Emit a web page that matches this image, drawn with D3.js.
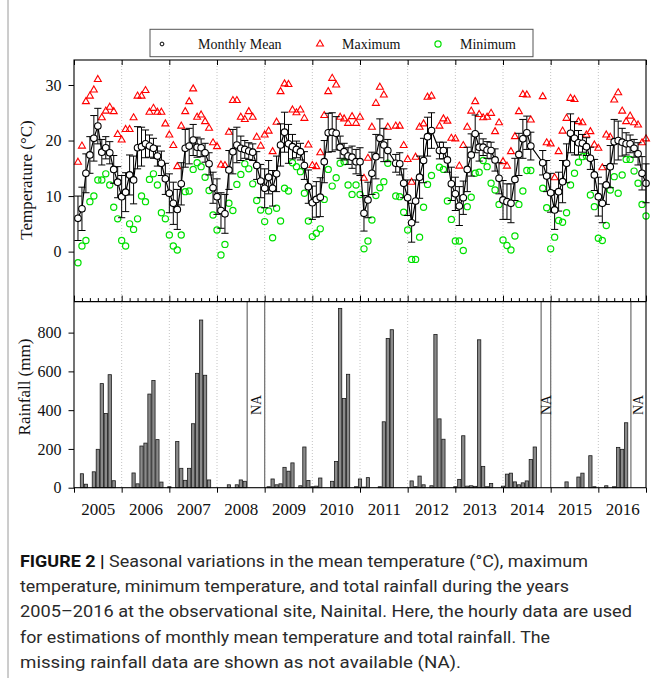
<!DOCTYPE html>
<html>
<head>
<meta charset="utf-8">
<script src="https://cdn.jsdelivr.net/npm/d3@7/dist/d3.min.js"></script>
<style>
body { margin: 0; background: #fff; }
.serif { font-family: "Liberation Serif", "Times New Roman", serif; }
</style>
</head>
<body>
<svg id="FigSvg" width="651" height="678"></svg>
<script>
// monthly values, Jan 2005 .. Dec 2016 (null = no data)
var years = ['2005', '2006', '2007', '2008', '2009', '2010', '2011', '2012', '2013', '2014', '2015', '2016']
var meanT = [
    6.0, 7.7, 14.1, 17.4, 20.4, 22.6, 17.9, 18.7, 17.8, 14.8, 12.5, 9.9,
    10.7, 13.8, 12.9, 18.7, 18.9, 19.4, 19.0, 18.6, 17.2, 15.9, 13.1, 10.5,
    8.7, 7.6, 12.2, 18.6, 19.0, 20.1, 18.8, 18.7, 17.8, 15.8, 11.5, 9.9,
    7.4, 6.8, 14.7, 18.0, 19.2, 18.6, 18.4, 18.1, 17.9, 15.5, 12.7, 11.4,
    13.4, 11.4, 14.0, 19.2, 21.5, 19.4, 18.9, 18.4, 18.0, 15.5, 11.7, 8.8,
    9.4, 9.8, 16.2, 21.4, 21.5, 21.3, 18.8, 18.0, 17.2, 17.0, 16.2, 16.2,
    6.9, 9.3, 14.1, 17.1, 20.4, 19.2, 18.2, null, 15.9, 15.8, 12.3, 9.7,
    5.2, 9.1, 13.4, 16.4, 20.7, 21.8, null, 18.2, 18.2, 16.5, 12.2, 10.4,
    8.2, 9.7, 14.8, 17.4, 21.2, 18.8, 18.8, 18.3, 18.2, 16.5, 13.2, 9.3,
    9.0, 8.7, 13.0, 17.5, 20.3, 21.4, 19.0, null, null, 16.0, 13.6, 10.6,
    7.5, 10.8, 12.6, 15.9, 21.3, 20.4, 19.6, 19.5, 18.9, 16.8, 13.8, 9.9,
    8.7, 12.0, 15.3, 19.8, 20.0, 19.7, 19.4, 19.4, 18.6, 17.6, 14.1, 12.3]
var errT = [
    4.0, 3.9, 3.5, 3.3, 4.1, 3.2, 2.3, 2.0, 2.0, 2.5, 2.8, 3.8,
    3.5, 3.6, 4.3, 3.8, 3.5, 2.5, 2.0, 1.8, 1.8, 2.2, 2.8, 3.5,
    3.8, 3.6, 3.8, 3.4, 3.2, 2.8, 1.8, 1.6, 1.7, 2.0, 2.8, 3.2,
    3.2, 3.5, 3.5, 4.0, 3.2, 2.2, 1.6, 1.5, 1.5, 2.5, 3.0, 3.5,
    3.0, 3.2, 3.2, 3.8, 3.6, 3.5, 2.2, 1.5, 1.5, 2.5, 3.0, 3.0,
    3.2, 3.5, 3.8, 3.5, 3.5, 3.0, 2.0, 1.5, 1.5, 2.0, 2.2, 2.5,
    3.2, 3.2, 3.8, 4.0, 3.5, 3.0, 2.0, null, 1.6, 2.0, 2.6, 3.2,
    3.5, 3.8, 3.8, 4.0, 3.5, 3.2, null, 1.5, 1.5, 2.2, 3.0, 3.0,
    3.5, 3.0, 4.0, 3.8, 3.4, 2.5, 1.5, 1.5, 1.5, 2.0, 2.8, 3.5,
    3.2, 3.5, 3.8, 3.8, 3.5, 3.0, 2.5, null, null, 2.2, 2.8, 3.5,
    3.5, 3.5, 3.8, 3.5, 3.5, 3.0, 2.2, 1.6, 1.6, 2.0, 2.8, 3.5,
    3.5, 3.5, 3.8, 4.0, 3.5, 2.5, 2.0, 1.6, 1.6, 2.0, 3.0, 3.5]
var maxT = [
    16.1, 19.0, 27.0, 28.0, 29.1, 31.0, 24.1, 25.3, 26.0, 25.2, 21.1, 20.1,
    22.0, 22.0, 24.1, 28.0, 28.0, 29.0, 25.1, 25.8, 25.1, 25.1, 23.0, 21.0,
    19.1, 15.3, 22.6, 25.2, 27.0, 29.3, 24.2, 24.6, 23.4, 22.2, 19.6, 18.9,
    15.6, 15.5, 21.5, 27.2, 27.2, 24.2, 23.8, 25.2, 24.2, 20.6, 19.0, 21.0,
    21.7, 18.0, 23.3, 28.8, 30.2, 30.1, 25.5, 25.0, 25.5, 24.0, 19.2, 15.5,
    15.3, 17.8, 24.5, 28.8, 31.2, 30.0, 24.2, 23.9, 23.1, 24.3, 23.1, 24.2,
    13.2, 16.8, 22.4, 26.7, 29.6, 28.2, 22.4, null, 22.6, 22.6, 19.1, 16.6,
    12.5, 17.0, 22.4, 23.0, 27.8, 28.0, null, 22.6, 23.9, 23.5, 20.4, 20.3,
    15.4, 19.1, 22.4, 25.3, 27.0, 24.7, 24.1, 24.2, 24.9, 21.6, 23.2, 16.2,
    15.4, 18.0, 20.7, 25.2, 28.3, 28.2, 23.7, null, null, 27.9, 19.6, 19.4,
    13.3, 18.0, 21.7, 24.0, 27.6, 27.4, 23.4, 23.2, 21.0, 21.6, 19.2, 18.6,
    15.1, 21.0, 20.6, 27.3, 28.6, 25.3, 23.4, 24.4, 23.2, 22.8, 19.6, 20.3]
var minT = [
    -2.0, 1.0, 2.0, 9.0, 10.0, 12.9, 12.9, 14.0, 12.0, 8.0, 5.9, 2.0,
    1.0, 5.0, 4.0, 5.9, 10.0, 9.0, 13.0, 14.0, 12.0, 7.0, 5.9, 3.0,
    1.0, 0.3, 3.0, 10.8, 10.9, 14.8, 16.0, 15.3, 13.4, 11.0, 6.6, 3.9,
    -0.6, 1.3, 8.7, 7.4, 12.1, 13.9, 15.8, 14.9, 12.2, 9.2, 7.5, 5.4,
    7.3, 2.5, 7.8, 5.5, 11.4, 10.9, 16.0, 15.3, 14.4, 10.5, 5.5, 2.7,
    3.3, 4.1, 9.4, 14.8, 11.8, 13.3, 15.9, 16.2, 12.0, 10.3, 12.0, 10.3,
    0.5, 1.9, 5.7, 10.1, 11.5, 12.6, 15.9, null, 10.0, 9.9, 7.1, 3.9,
    -1.4, -1.4, 2.6, 8.0, 12.1, 13.7, null, 15.2, 14.8, 9.1, 5.8, 1.9,
    1.9, 0.2, 8.1, 9.8, 14.1, 14.3, 16.4, 15.3, 12.3, 11.1, 8.5, 2.1,
    1.1, 0.3, 2.8, 8.5, 10.9, 14.6, 14.6, null, null, 11.4, 7.9, 0.5,
    2.6, 5.6, 5.3, 7.0, 12.0, 14.1, 16.1, 17.1, 17.2, 10.2, 8.1, 2.4,
    2.0, 4.7, 11.1, 13.5, 10.5, 13.8, 16.6, 16.6, 14.5, 12.3, 8.5, 6.4]
var rain = [
    0, 72, 18, 0, 82, 198, 537, 383, 583, 36, 0, 0,
    0, 0, 76, 20, 215, 230, 483, 553, 248, 29, 0, 5,
    0, 238, 100, 38, 100, 330, 590, 865, 580, 40, 0, 0,
    0, 0, 15, 0, 15, 40, 33, null, null, null, null, null,
    5, 45, 15, 20, 105, 85, 128, 0, 10, 210, 37, 5,
    8, 50, 0, 0, 33, 135, 925, 460, 585, 0, 5, 45,
    3, 52, 0, 0, 5, 340, 770, 815, 0, 0, 0, 0,
    35, 5, 60, 15, 0, 10, 790, 355, 250, 0, 0, 5,
    43, 268, 8, 10, 7, 763, 110, 5, 22, 0, 0, 8,
    70, 75, 30, 15, 25, 35, 145, 210, null, null, null, null,
    0, 0, 0, 30, 0, 0, 55, 75, 0, 165, 5, 0,
    0, 10, 0, 5, 208, 198, 335, null, null, null, null, null]
// rainfall not available, in months from Jan 2005
var naFrom = [43.6, 117.6, 140.2]
var naTo = [48, 120, 144]
var tempTicks = [0, 10, 20, 30]
var rainTicks = [0, 200, 400, 600, 800]
var legendText = ['Monthly Mean', 'Maximum', 'Minimum']
var captionLines = [
    'Seasonal variations in the mean temperature (\u00B0C), maximum',
    'temperature, minimum temperature, and total rainfall during the years',
    '2005\u20132016 at the observational site, Nainital. Here, the hourly data are used',
    'for estimations of monthly mean temperature and total rainfall. The',
    'missing rainfall data are shown as not available (NA).']

var FigSvg = d3.select('#FigSvg')
var PlotLeft = 74, PlotRight = 646, TopY = 60, MidY = 301.6, BotY = 487.7

var xScale = d3.scaleLinear().domain([0, 144]).range([PlotLeft, PlotRight])
var tScale = d3.scaleLinear().domain([-9, 34.5]).range([MidY, TopY])
var rScale = d3.scaleLinear().domain([0, 960]).range([BotY, MidY])

// figure frame line on the left
FigSvg.append('line').attr('x1', 8).attr('x2', 8).attr('y1', 0).attr('y2', 678)
    .attr('stroke', '#9a9a9a').attr('stroke-width', 1)

// dotted year lines
for (var k = 1; k < 12; k++) {
    FigSvg.append('line')
        .attr('x1', xScale(k * 12)).attr('x2', xScale(k * 12))
        .attr('y1', TopY).attr('y2', BotY)
        .attr('stroke', '#b5b5b5').attr('stroke-width', 0.8)
        .attr('stroke-dasharray', '1,2')
}

// NA periods of rainfall
for (var n = 0; n < naFrom.length; n++) {
    [naFrom[n], naTo[n]].forEach(function (m) {
        if (m < 144) {
            FigSvg.append('line')
                .attr('x1', xScale(m)).attr('x2', xScale(m))
                .attr('y1', MidY).attr('y2', BotY)
                .attr('stroke', '#777').attr('stroke-width', 1.3)
        }
    })
    var cx = (xScale(naFrom[n]) + xScale(naTo[n])) / 2
    FigSvg.append('text').attr('class', 'serif')
        .attr('transform', `translate(${cx + 5},405) rotate(-90)`)
        .attr('text-anchor', 'middle')
        .attr('font-size', '14px')
        .attr('fill', '#111')
        .text('NA')
}

// rainfall bars
var barW = xScale(0.82) - xScale(0)
FigSvg.append('g').selectAll('rect')
    .data(rain.map(function (v, i) { return { m: i + 1, v: v } }).filter(function (d) { return d.v !== null }))
    .enter().append('rect')
    .attr('x', function (d) { return xScale(d.m) - barW / 2 })
    .attr('y', function (d) { return rScale(d.v) })
    .attr('width', barW)
    .attr('height', function (d) { return BotY - rScale(d.v) })
    .attr('fill', '#8a8a8a')
    .attr('stroke', '#1a1a1a')
    .attr('stroke-width', 0.8)

// max and min markers
var tri = d3.symbol().type(d3.symbolTriangle).size(21)
for (var i = 0; i < 144; i++) {
    if (maxT[i] !== null) {
        FigSvg.append('path')
            .attr('d', tri)
            .attr('transform', `translate(${xScale(i + 1)},${tScale(maxT[i])})`)
            .attr('fill', 'none').attr('stroke', '#ff0000').attr('stroke-width', 1.1)
    }
    if (minT[i] !== null) {
        FigSvg.append('circle')
            .attr('cx', xScale(i + 1)).attr('cy', tScale(minT[i])).attr('r', 3.1)
            .attr('fill', 'none').attr('stroke', '#00e000').attr('stroke-width', 1.2)
    }
}

// mean with error bars
var meanPts = meanT.map(function (v, i) { return { m: i + 1, v: v, e: errT[i] } }).filter(function (d) { return d.v !== null })
meanPts.forEach(function (d) {
    var x = xScale(d.m), y1 = tScale(d.v - d.e), y2 = tScale(d.v + d.e)
    FigSvg.append('line').attr('x1', x).attr('x2', x).attr('y1', y1).attr('y2', y2)
        .attr('stroke', '#000').attr('stroke-width', 1)
    FigSvg.append('line').attr('x1', x - 3.6).attr('x2', x + 3.6).attr('y1', y1).attr('y2', y1)
        .attr('stroke', '#000').attr('stroke-width', 1)
    FigSvg.append('line').attr('x1', x - 3.6).attr('x2', x + 3.6).attr('y1', y2).attr('y2', y2)
        .attr('stroke', '#000').attr('stroke-width', 1)
})
FigSvg.append('path')
    .datum(meanPts)
    .attr('d', d3.line().x(function (d) { return xScale(d.m) }).y(function (d) { return tScale(d.v) }))
    .attr('fill', 'none').attr('stroke', '#000').attr('stroke-width', 1.2)
FigSvg.append('g').selectAll('circle')
    .data(meanPts).enter().append('circle')
    .attr('cx', function (d) { return xScale(d.m) })
    .attr('cy', function (d) { return tScale(d.v) })
    .attr('r', 3.3)
    .attr('fill', '#fff').attr('stroke', '#000').attr('stroke-width', 1.1)

// frames
FigSvg.append('rect').attr('x', PlotLeft).attr('y', TopY)
    .attr('width', PlotRight - PlotLeft).attr('height', BotY - TopY)
    .attr('fill', 'none').attr('stroke', '#000').attr('stroke-width', 1.1)
FigSvg.append('line').attr('x1', PlotLeft).attr('x2', PlotRight).attr('y1', MidY).attr('y2', MidY)
    .attr('stroke', '#000').attr('stroke-width', 1.1)

// axes
function styleAxis(g) {
    g.select('.domain').remove()
    g.selectAll('line').attr('stroke', '#000')
    g.selectAll('text').attr('class', 'serif').attr('font-size', '16px').attr('fill', '#111')
}
var majors = d3.range(0, 145, 12)
var minors = d3.range(2, 144, 2).filter(function (m) { return m % 12 !== 0 })
FigSvg.append('g').attr('transform', `translate(0,${TopY})`)
    .call(d3.axisBottom(xScale).tickValues(majors).tickSize(5).tickFormat('')).call(styleAxis)
FigSvg.append('g').attr('transform', `translate(0,${MidY})`)
    .call(d3.axisTop(xScale).tickValues(majors).tickSize(6).tickFormat('')).call(styleAxis)
FigSvg.append('g').attr('transform', `translate(0,${MidY})`)
    .call(d3.axisTop(xScale).tickValues(minors).tickSize(3.5).tickFormat('')).call(styleAxis)
FigSvg.append('g').attr('transform', `translate(0,${BotY})`)
    .call(d3.axisBottom(xScale).tickValues(majors).tickSize(5).tickFormat('')).call(styleAxis)
FigSvg.append('g').attr('transform', `translate(0,${BotY})`)
    .call(d3.axisBottom(xScale).tickValues(years.map(function (y, i) { return i * 12 + 6 }))
        .tickSize(0).tickPadding(15).tickFormat(function (d, i) { return years[i] }))
    .call(styleAxis)
    .selectAll('text').attr('font-size', '17px')
FigSvg.append('g').attr('transform', `translate(${PlotLeft},0)`)
    .call(d3.axisLeft(tScale).tickValues(tempTicks).tickSize(5.5).tickPadding(7)).call(styleAxis)
FigSvg.append('g').attr('transform', `translate(${PlotLeft},0)`)
    .call(d3.axisLeft(rScale).tickValues(rainTicks).tickSize(5.5).tickPadding(7)).call(styleAxis)

FigSvg.append('text').attr('class', 'serif')
    .attr('transform', 'translate(32,180) rotate(-90)')
    .attr('text-anchor', 'middle').attr('font-size', '17px').attr('fill', '#111')
    .text('Temperature (\u00B0C)')
FigSvg.append('text').attr('class', 'serif')
    .attr('transform', 'translate(30,387) rotate(-90)')
    .attr('text-anchor', 'middle').attr('font-size', '17px').attr('fill', '#111')
    .text('Rainfall (mm)')

// legend
var lg = FigSvg.append('g')
lg.append('rect').attr('x', 150).attr('y', 29.3).attr('width', 383).attr('height', 27.4)
    .attr('fill', '#fff').attr('stroke', '#555').attr('stroke-width', 1)
lg.append('circle').attr('cx', 162).attr('cy', 44).attr('r', 1.9)
    .attr('fill', '#fff').attr('stroke', '#000').attr('stroke-width', 1)
lg.append('path').attr('d', tri).attr('transform', 'translate(320,44)')
    .attr('fill', 'none').attr('stroke', '#ff0000').attr('stroke-width', 1.1)
lg.append('circle').attr('cx', 438).attr('cy', 44).attr('r', 3.1)
    .attr('fill', 'none').attr('stroke', '#00e000').attr('stroke-width', 1.2)
var lgX = [198, 342, 460]
for (var j = 0; j < legendText.length; j++) {
    lg.append('text').attr('class', 'serif')
        .attr('x', lgX[j]).attr('y', 48.5)
        .attr('font-size', '14px').attr('fill', '#111')
        .text(legendText[j])
}

// caption
var capW = [568, 549, 612, 530, 441]
for (var c = 0; c < captionLines.length; c++) {
    var t = FigSvg.append('text')
        .attr('x', 20).attr('y', 567 + c * 25.2)
        .attr('font-family', 'Roboto, "Liberation Sans", sans-serif')
        .attr('font-size', '17px').attr('fill', '#2a2a2a')
        .attr('textLength', capW[c]).attr('lengthAdjust', 'spacingAndGlyphs')
    if (c === 0) {
        t.append('tspan').attr('font-weight', 'bold').attr('fill', '#111').text('FIGURE 2 | ')
    }
    t.append('tspan').text(captionLines[c])
}
</script>
</body>
</html>
